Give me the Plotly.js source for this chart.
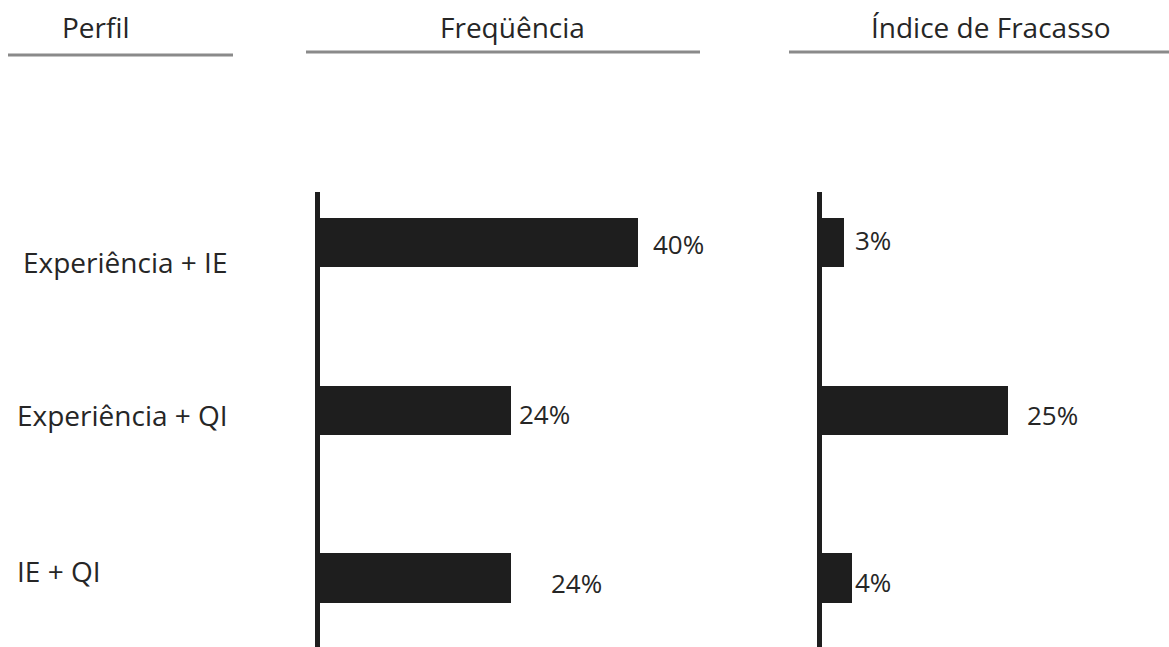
<!DOCTYPE html>
<html><head><meta charset="utf-8">
<script src="https://cdn.plot.ly/plotly-3.0.1.min.js"></script>
<style>html,body{margin:0;padding:0;background:#fff}#chart{width:1169px;height:647px}</style>
</head><body><div id="chart"></div>
<script>
// ---- data ----
const categories = ['Experiência + IE', 'Experiência + QI', 'IE + QI'];
const frequencia = [40, 24, 24];
const indiceFracasso = [3, 25, 4];
const headers = ['Perfil', 'Freqüência', 'Índice de Fracasso'];

// ---- layout helpers ----
const W = 1169, H = 647, T = 192;
const px = p => p / W;
const py = p => (H - p) / (H - T);
const FONT = 'Open Sans, Noto Sans, sans-serif';
const TXT = '#262626';
const BAR = '#1e1e1e';

const pct = v => v + '%';

const traces = [
  {type: 'bar', orientation: 'h', x: frequencia, y: categories, xaxis: 'x', yaxis: 'y',
   width: 0.295, marker: {color: BAR}, hoverinfo: 'skip'},
  {type: 'bar', orientation: 'h', x: indiceFracasso, y: categories, xaxis: 'x2', yaxis: 'y2',
   width: 0.295, marker: {color: BAR}, hoverinfo: 'skip'}
];

const catLabelX = [21, 15, 15];
const catLabelShift = [-19, -5, 7];
const freqLabelShift = [[13, -1], [6, -4], [38, -5]];
const idxLabelShift = [[9, 3], [17, -5], [1, -4]];

const annotations = [];
categories.forEach((c, i) => {
  annotations.push({xref: 'paper', yref: 'y', x: px(catLabelX[i]), y: c, text: c, showarrow: false,
    xanchor: 'left', yanchor: 'middle', yshift: catLabelShift[i], font: {family: FONT, size: 28, color: TXT}});
  annotations.push({xref: 'x', yref: 'y', x: frequencia[i], y: c, text: pct(frequencia[i]), showarrow: false,
    xanchor: 'left', yanchor: 'middle', xshift: freqLabelShift[i][0], yshift: freqLabelShift[i][1],
    font: {family: FONT, size: 26, color: TXT}});
  annotations.push({xref: 'x2', yref: 'y2', x: indiceFracasso[i], y: c, text: pct(indiceFracasso[i]), showarrow: false,
    xanchor: 'left', yanchor: 'middle', xshift: idxLabelShift[i][0], yshift: idxLabelShift[i][1],
    font: {family: FONT, size: 26, color: TXT}});
});
const headerX = [96, 512, 991];
headers.forEach((h, i) => {
  annotations.push({xref: 'paper', yref: 'paper', x: px(headerX[i]), y: py(27), text: h, showarrow: false,
    xanchor: 'center', yanchor: 'middle', font: {family: FONT, size: 28, color: TXT}});
});

const lineSeg = [[8, 233, 55], [306, 700, 52], [789, 1169, 52]];
const shapes = lineSeg.map(s => ({type: 'line', xref: 'paper', yref: 'paper',
  x0: px(s[0]), x1: px(s[1]), y0: py(s[2]), y1: py(s[2]), line: {color: '#8a8a8a', width: 3}}));

const yRange = [2.4107, -0.3016];
const yCommon = {type: 'category', categoryorder: 'array', categoryarray: categories, range: yRange,
  showline: true, linecolor: BAR, linewidth: 5, showticklabels: false, ticks: '', showgrid: false,
  zeroline: false, fixedrange: true};

const layout = {
  width: W, height: H,
  margin: {l: 0, r: 0, t: T, b: 0, pad: 0},
  paper_bgcolor: '#ffffff', plot_bgcolor: 'rgba(0,0,0,0)',
  showlegend: false,
  xaxis: {domain: [px(320), px(760)], range: [0, (760 - 320) / 7.95], visible: false, fixedrange: true},
  xaxis2: {domain: [px(822), 1], range: [0, (1169 - 822) / 7.45], visible: false, fixedrange: true},
  yaxis: Object.assign({anchor: 'x'}, yCommon),
  yaxis2: Object.assign({anchor: 'x2'}, yCommon),
  annotations: annotations,
  shapes: shapes,
  bargap: 0
};

Plotly.newPlot('chart', traces, layout, {displayModeBar: false, staticPlot: true});
</script>
</body></html>
